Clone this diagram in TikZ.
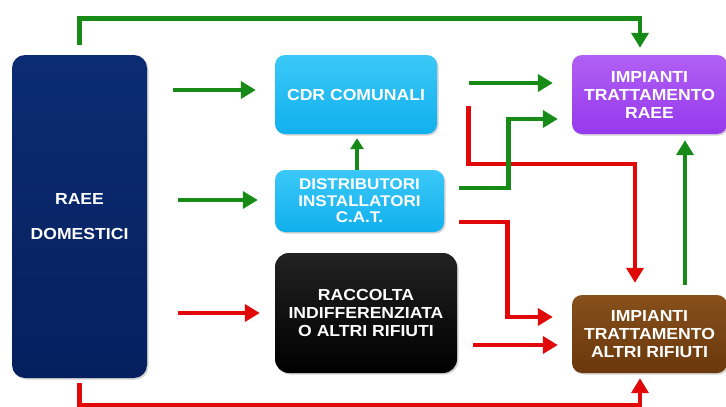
\documentclass[tikz,border=0pt]{standalone}
\usepackage{fontspec}
\setmainfont{Liberation Sans}[FakeStretch=1.1]
\usetikzlibrary{arrows.meta,shadows,calc}
\definecolor{navy}{HTML}{04205F}
\definecolor{navytop}{HTML}{0C2C72}
\definecolor{sky}{HTML}{10B0EE}
\definecolor{skytop}{HTML}{3CC8F8}
\definecolor{violet}{HTML}{9638EC}
\definecolor{violettop}{HTML}{B060F4}
\definecolor{brownb}{HTML}{6A380C}
\definecolor{browntop}{HTML}{87501C}
\definecolor{blk}{HTML}{000000}
\definecolor{blktop}{HTML}{222222}
\definecolor{gr}{HTML}{178A17}
\definecolor{rd}{HTML}{E00808}
\begin{document}
\begin{tikzpicture}[x=1pt,y=-1pt,
  box/.style={rectangle, rounded corners=13pt, draw=none, text=white,
    font=\bfseries\fontsize{16}{18}\selectfont, align=center, inner sep=0pt,
    drop shadow={opacity=0.35, shadow xshift=1.5pt, shadow yshift=-1.5pt}},
  garrow/.style={draw=gr, line width=4.8pt, -{Triangle[length=15pt,width=17pt]}},
  rarrow/.style={draw=rd, line width=4.8pt, -{Triangle[length=15pt,width=17pt]}}]
\useasboundingbox (0,0) rectangle (726,407);
\fill[white] (0,0) rectangle (726,407);

\node[box, top color=navytop, bottom color=navy, minimum width=135pt, minimum height=323pt] (raee) at (79.5,216.5) {RAEE\\[17pt]DOMESTICI};
\node[box, top color=skytop, bottom color=sky, minimum width=162pt, minimum height=79pt, rounded corners=10pt] (cdr) at (356,94.5) {CDR COMUNALI};
\node[box, top color=skytop, bottom color=sky, minimum width=169pt, minimum height=62pt, rounded corners=10pt, font=\bfseries\fontsize{15.5}{16.5}\selectfont] (dist) at (359.5,201) {DISTRIBUTORI\\INSTALLATORI\\C.A.T.};
\node[box, top color=blktop, bottom color=blk, minimum width=182pt, minimum height=120pt, rounded corners=14pt] (racc) at (366,313) {RACCOLTA\\INDIFFERENZIATA\\O ALTRI RIFIUTI};
\node[box, top color=violettop, bottom color=violet, minimum width=155pt, minimum height=79pt, rounded corners=10pt] (praee) at (649.5,94.5) {IMPIANTI\\TRATTAMENTO\\RAEE};
\node[box, top color=browntop, bottom color=brownb, minimum width=155pt, minimum height=78pt, rounded corners=10pt] (paltri) at (649.5,334) {IMPIANTI\\TRATTAMENTO\\ALTRI RIFIUTI};

% top green loop
\draw[garrow] ($(raee.north)+(0,-10)$) -- ++(0,-26) -| ($(praee.north)+(-9.5,-7)$);
% bottom red loop
\draw[rarrow] ($(raee.south)+(0,5)$) -- ++(0,22) -| ($(paltri.south)+(-9.5,5)$);

% from RAEE domestici
\draw[garrow, shorten <=26pt, shorten >=19pt] (raee.east |- 0,90) -- (cdr.west |- 0,90);
\draw[garrow, shorten <=31pt, shorten >=17pt] (raee.east |- 0,200) -- (dist.west |- 0,200);
\draw[rarrow, shorten <=31pt, shorten >=15pt] (raee.east |- 0,313) -- (racc.west |- 0,313);

% red from CDR to altri
\draw[rarrow] ($(cdr.east |- 0,106)+(31,0)$) -- ++(0,58) -| ($(paltri.north)+(-14.5,-12)$);
% red from distributori to altri
\draw[rarrow] ($(dist.east |- 0,222)+(15,0)$) -- ++(48,0) |- ($(paltri.west |- 0,317)+(-19,0)$);
% red from raccolta to altri
\draw[rarrow, shorten <=16pt, shorten >=14pt] (racc.east |- 0,345) -- (paltri.west |- 0,345);

% distributori -> CDR
\draw[garrow, line width=4.2pt, -{Triangle[length=11pt,width=13pt]}, shorten >=4pt] (dist.north -| 357,0) -- (cdr.south -| 357,0);
% CDR -> impianti RAEE
\draw[garrow, shorten <=32pt, shorten >=19pt] (cdr.east |- 0,83) -- (praee.west |- 0,83);
% distributori -> impianti RAEE
\draw[garrow] ($(dist.east |- 0,188)+(15,0)$) -- ++(49,0) |- ($(praee.west |- 0,119)+(-14,0)$);
% altri -> impianti RAEE
\draw[garrow] ($(paltri.north)+(35.5,-10)$) -- ($(praee.south)+(35.5,6)$);
\end{tikzpicture}
\end{document}
